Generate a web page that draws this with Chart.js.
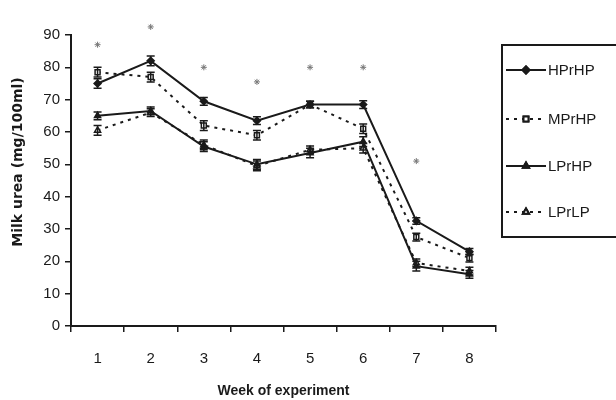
<!DOCTYPE html>
<html lang="en">
<head>
    <meta charset="UTF-8">
    <title>Milk urea by week</title>
    <style>
        body {
            margin: 0;
            padding: 0;
            background: #ffffff;
        }
        #wrap {
            width: 616px;
            height: 400px;
        }
    </style>
</head>
<body>
    <div id="wrap">
        <canvas id="ureaChart" width="616" height="400"></canvas>
    </div>

    <script src="https://cdn.jsdelivr.net/npm/chart.js"></script>
    <script>
        // data
        const weeks = ['1', '2', '3', '4', '5', '6', '7', '8'];
        const hpHp = [75, 82, 69.5, 63.5, 68.5, 68.5, 32.5, 23];
        const mpHp = [78.5, 77, 62, 59, 68.5, 61, 27.5, 21];
        const lpHp = [65, 66.5, 55.5, 50, 53.5, 57, 18.5, 16];
        const lpLp = [60.5, 66, 56, 49.5, 54.5, 55, 19.5, 17];
        const hpHpErr = [1.5, 1.5, 1.2, 1.2, 1, 1.2, 1, 1];
        const mpHpErr = [1.5, 1.5, 1.5, 1.5, 1, 1.5, 1.2, 1.2];
        const lpHpErr = [1.2, 1.2, 1.5, 1.5, 1.5, 1.5, 1.5, 1.2];
        const lpLpErr = [1.5, 1.2, 1.5, 1.5, 1.2, 1.5, 1.2, 1.2];
        const signif = [87, 92.5, 80, 75.5, 80, 80, 51, null];
        const yTicks = [0, 10, 20, 30, 40, 50, 60, 70, 80, 90];

        const ink = '#1a1a1a';
        const narrow = "'Liberation Sans Narrow', 'Arial Narrow', Arial, sans-serif";

        // small capped error bars
        const errorBars = {
            id: 'errorBars',
            afterDatasetsDraw(chart) {
                const ctx = chart.ctx;
                const y = chart.scales.y;
                chart.data.datasets.forEach((ds, i) => {
                    if (!ds.err) return;
                    const meta = chart.getDatasetMeta(i);
                    ctx.save();
                    ctx.strokeStyle = ink;
                    ctx.lineWidth = 1.5;
                    meta.data.forEach((pt, j) => {
                        const top = y.getPixelForValue(ds.data[j] + ds.err[j]);
                        const bot = y.getPixelForValue(ds.data[j] - ds.err[j]);
                        ctx.beginPath();
                        ctx.moveTo(pt.x, top);
                        ctx.lineTo(pt.x, bot);
                        ctx.moveTo(pt.x - 4, top);
                        ctx.lineTo(pt.x + 4, top);
                        ctx.moveTo(pt.x - 4, bot);
                        ctx.lineTo(pt.x + 4, bot);
                        ctx.stroke();
                    });
                    ctx.restore();
                });
            }
        };

        // significance stars; week 2 sits above the axis top so chart.js would skip it
        const sigStars = {
            id: 'sigStars',
            afterDatasetsDraw(chart) {
                const ctx = chart.ctx;
                const x = chart.scales.x;
                const y = chart.scales.y;
                ctx.save();
                ctx.strokeStyle = '#777777';
                signif.forEach((v, j) => {
                    if (v == null) return;
                    Chart.helpers.drawPoint(ctx, {
                        pointStyle: 'star',
                        radius: 3,
                        rotation: 0,
                        borderWidth: 1.5
                    }, x.getPixelForValue(j), y.getPixelForValue(v));
                });
                ctx.restore();
            }
        };

        // y title sits a bit above the axis middle in the original
        const yTitle = {
            id: 'yTitle',
            afterDraw(chart) {
                const ctx = chart.ctx;
                ctx.save();
                ctx.translate(18, 162);
                ctx.rotate(-Math.PI / 2);
                ctx.fillStyle = ink;
                ctx.font = "bold 14px 'DejaVu Sans', Arial, sans-serif";
                ctx.textAlign = 'center';
                ctx.textBaseline = 'middle';
                ctx.fillText('Milk urea (mg/100ml)', 0, 0);
                ctx.restore();
            }
        };

        // boxed legend on the right, like the original figure
        const boxLegend = {
            id: 'boxLegend',
            afterDraw(chart) {
                const ctx = chart.ctx;
                ctx.save();
                ctx.strokeStyle = ink;
                ctx.lineWidth = 2;
                ctx.strokeRect(502, 45, 130, 192);
                const rows = [70, 119, 166, 212];
                chart.data.datasets.forEach((ds, k) => {
                    const yy = rows[k];
                    ctx.strokeStyle = ink;
                    ctx.lineWidth = 2;
                    ctx.setLineDash(ds.borderDash || []);
                    ctx.beginPath();
                    ctx.moveTo(506, yy);
                    ctx.lineTo(546, yy);
                    ctx.stroke();
                    ctx.setLineDash([]);
                    Chart.helpers.drawPoint(ctx, {
                        pointStyle: ds.pointStyle,
                        radius: 3.5,
                        rotation: 0,
                        borderWidth: 1.5
                    }, 526, yy);
                    ctx.fillStyle = ds.pointBackgroundColor;
                    ctx.strokeStyle = ink;
                    ctx.fill();
                    ctx.stroke();
                    ctx.fillStyle = ink;
                    ctx.font = '15px ' + narrow;
                    ctx.textBaseline = 'middle';
                    ctx.fillText(ds.label, 548, yy + 1);
                });
                ctx.restore();
            }
        };

        function line(label, data, err, style, fill, dash) {
            return {
                label: label,
                data: data,
                err: err,
                borderColor: ink,
                borderWidth: 2,
                borderDash: dash,
                pointStyle: style,
                pointRadius: 3.5,
                pointBorderColor: ink,
                pointBackgroundColor: fill,
                pointBorderWidth: 1.5,
                tension: 0
            };
        }

        const ctx = document.getElementById('ureaChart').getContext('2d');
        new Chart(ctx, {
            type: 'line',
            data: {
                labels: weeks,
                datasets: [
                    line('HPrHP', hpHp, hpHpErr, 'rectRot', ink, []),
                    line('MPrHP', mpHp, mpHpErr, 'rect', '#ffffff', [3, 5]),
                    line('LPrHP', lpHp, lpHpErr, 'triangle', ink, []),
                    line('LPrLP', lpLp, lpLpErr, 'triangle', '#ffffff', [3, 5])
                ]
            },
            options: {
                responsive: false,
                animation: false,
                layout: {
                    padding: { top: 35, right: 120, left: 0, bottom: 0 }
                },
                plugins: {
                    legend: { display: false },
                    tooltip: { enabled: false }
                },
                scales: {
                    x: {
                        offset: true,
                        border: { color: ink, width: 2 },
                        grid: {
                            offset: true,
                            drawOnChartArea: false,
                            color: ink,
                            lineWidth: 1.5,
                            tickLength: 6
                        },
                        ticks: {
                            color: ink,
                            padding: 18,
                            font: { family: narrow, size: 15 }
                        },
                        title: {
                            display: true,
                            text: 'Week of experiment',
                            color: ink,
                            padding: { top: 4, bottom: 0 },
                            font: { family: narrow, size: 14, weight: 'bold' }
                        },
                        afterFit: s => { s.height = 74; }
                    },
                    y: {
                        min: 0,
                        max: 90,
                        border: { color: ink, width: 2 },
                        grid: {
                            drawOnChartArea: false,
                            color: ink,
                            lineWidth: 1.5,
                            tickLength: 6
                        },
                        afterBuildTicks: s => { s.ticks = yTicks.map(v => ({ value: v })); },
                        ticks: {
                            color: ink,
                            padding: 5,
                            font: { family: narrow, size: 15 }
                        },
                        afterFit: s => { s.width = 71; }
                    }
                }
            },
            plugins: [errorBars, sigStars, yTitle, boxLegend]
        });
    </script>
</body>
</html>
